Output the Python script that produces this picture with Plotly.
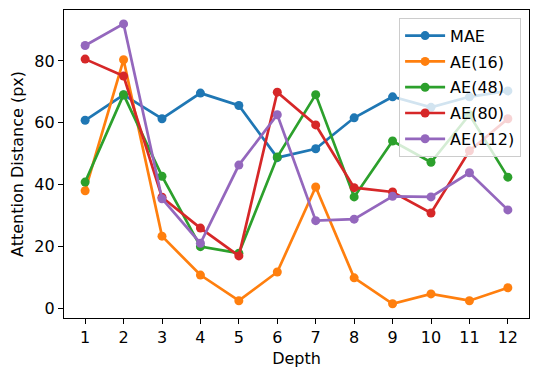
import plotly.graph_objects as go

depth = [1, 2, 3, 4, 5, 6, 7, 8, 9, 10, 11, 12]
series_names = ["MAE", "AE(16)", "AE(48)", "AE(80)", "AE(112)"]
mae = [60.8, 69.0, 61.3, 69.6, 65.6, 48.7, 51.6, 61.6, 68.4, 65.0, 68.4, 70.3]
ae16 = [38.0, 80.4, 23.3, 10.7, 2.4, 11.7, 39.2, 9.8, 1.4, 4.6, 2.4, 6.6]
ae48 = [40.8, 69.1, 42.7, 19.9, 17.8, 48.9, 69.1, 36.0, 54.1, 47.2, 62.6, 42.4]
ae80 = [80.6, 75.1, 35.9, 25.9, 16.9, 69.9, 59.3, 39.0, 37.6, 30.8, 50.9, 61.3]
ae112 = [85.0, 92.0, 35.4, 21.0, 46.3, 62.6, 28.3, 28.8, 36.2, 36.0, 43.8, 31.8]
yticks = [0, 20, 40, 60, 80]

colors = ["#1f77b4", "#ff7f0e", "#2ca02c", "#d62728", "#9467bd"]
all_series = [mae, ae16, ae48, ae80, ae112]

fig = go.Figure()
for i, (name, vals) in enumerate(zip(series_names, all_series)):
    fig.add_trace(go.Scatter(
        x=depth, y=vals, name=name, mode="lines+markers",
        line=dict(color=colors[i], width=2.7),
        marker=dict(color=colors[i], size=9),
        legendgroup=name,
    ))

font = dict(family="DejaVu Sans", size=16, color="black")
axis_common = dict(
    showline=True, linecolor="black", linewidth=1.2, mirror=True,
    ticks="outside", ticklen=5, tickwidth=1.2, tickcolor="black",
    showgrid=False, zeroline=False, tickfont=font, automargin=False,
)
fig.update_layout(
    width=539, height=379,
    margin=dict(l=64, r=10, t=10, b=61),
    plot_bgcolor="white", paper_bgcolor="white",
    font=font,
    xaxis=dict(range=[0.45, 12.55], tickmode="array", tickvals=depth,
               title=dict(text="Depth", font=font, standoff=6), **axis_common),
    yaxis=dict(range=[-3.2, 96.5], tickmode="array", tickvals=yticks,
               title=dict(text="Attention Distance (px)", font=font, standoff=6), **axis_common),
    legend=dict(x=0.983, xanchor="right", y=0.975, yanchor="top",
                bgcolor="rgba(255,255,255,0.8)", bordercolor="#cccccc", borderwidth=1,
                font=font, tracegroupgap=2, itemwidth=40),
    showlegend=True,
)
fig.write_html("out.html", config={"displayModeBar": False},
               post_script="document.body.style.margin='0px';")
